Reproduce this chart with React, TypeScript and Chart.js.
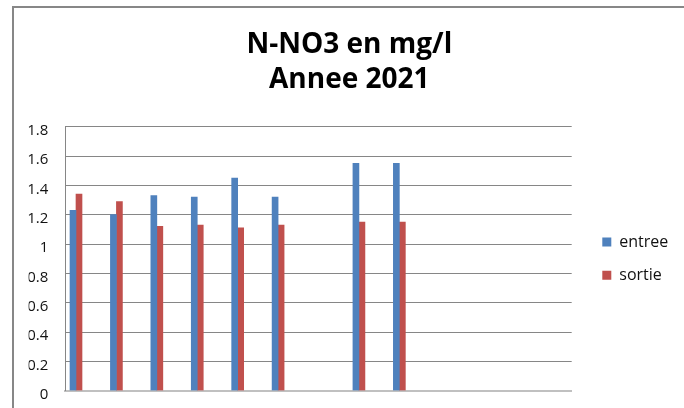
import React, { useEffect, useRef } from 'react';
import { Chart, registerables } from 'chart.js';

Chart.register(...registerables);

// ---- data ----
const categories = ['janv', 'févr', 'mars', 'avr', 'mai', 'juin', 'juil', 'août', 'sept', 'oct', 'nov', 'déc'];
const entree: (number | null)[] = [1.23, 1.2, 1.33, 1.32, 1.45, 1.32, null, 1.55, 1.55, null, null, null];
const sortie: (number | null)[] = [1.34, 1.29, 1.12, 1.13, 1.11, 1.13, null, 1.15, 1.15, null, null, null];
const seriesNames = ['entree', 'sortie'];
const yTickValues = [0, 0.2, 0.4, 0.6, 0.8, 1, 1.2, 1.4, 1.6, 1.8];
const yTickLabels = ['0', '0.2', '0.4', '0.6', '0.8', '1', '1.2', '1.4', '1.6', '1.8'];
const titleLines = ['N-NO3 en mg/l', 'Annee 2021'];

const FONT = "'Open Sans', 'Noto Sans', sans-serif";

const toPoints = (vals: (number | null)[]) =>
  vals
    .map((v, i) => (v === null ? null : { x: i, y: v }))
    .filter((p) => p !== null) as { x: number; y: number }[];

const framePlugin = {
  id: 'frame',
  beforeDraw(chart: any) {
    const { ctx } = chart;
    ctx.save();
    ctx.strokeStyle = '#878787';
    ctx.lineWidth = 2;
    ctx.strokeRect(13, 7, 720, 440);
    ctx.restore();
  },
};

export default function App() {
  const ref = useRef<HTMLCanvasElement | null>(null);

  useEffect(() => {
    if (!ref.current) return;
    const chart = new Chart(ref.current, {
      type: 'bar',
      data: {
        labels: categories,
        datasets: [
          {
            label: seriesNames[0],
            data: toPoints(entree) as any,
            backgroundColor: '#4F81BD',
            borderWidth: 0,
            barThickness: 6,
          },
          {
            label: seriesNames[1],
            data: toPoints(sortie) as any,
            backgroundColor: '#C0504D',
            borderWidth: 0,
            barThickness: 6,
          },
        ],
      },
      options: {
        responsive: false,
        animation: false,
        layout: { padding: { left: 28.6, right: 14, top: 0, bottom: 0 } },
        scales: {
          x: {
            type: 'linear',
            position: 'bottom',
            offset: false,
            bounds: 'data',
            min: -0.2647,
            max: 12.264,
            grid: { display: false, drawTicks: false, offset: false },
            border: { display: true, color: '#c0c0c0', width: 2 },
            ticks: { display: false },
            afterFit: (s: any) => {
              s.height = 17.3;
            },
          },
          y: {
            type: 'linear',
            position: 'left',
            min: 0,
            max: 1.8,
            ticks: {
              stepSize: 0.2,
              padding: 17,
              labelOffset: 4,
              autoSkip: false,
              color: '#111',
              font: { family: FONT, size: 15, lineHeight: 0 },
              callback: (_v: any, i: number) => yTickLabels[i],
            },
            afterBuildTicks: (axis: any) => {
              axis.ticks = yTickValues.map((v) => ({ value: v }));
            },
            grid: {
              drawTicks: false,
              color: (c: any) => (c.tick && c.tick.value === 0 ? 'rgba(0,0,0,0)' : '#868686'),
              lineWidth: 1,
            },
            border: { display: true, color: '#868686', width: 1 },
            afterFit: (s: any) => {
              s.width = 36.7;
            },
          },
          gap: {
            type: 'linear',
            position: 'right',
            display: true,
            grid: { display: false, drawTicks: false },
            border: { display: false },
            ticks: { display: false },
            afterFit: (s: any) => {
              s.width = 13.3;
            },
          },
        },
        plugins: {
          title: {
            display: true,
            text: titleLines,
            color: '#000',
            font: { family: FONT, size: 28, weight: 'bold', lineHeight: 1.25 },
            padding: { top: 28, bottom: 28.7 },
          },
          legend: {
            display: true,
            position: 'right',
            align: 'center',
            fullSize: false,
            maxWidth: 85,
            labels: {
              boxWidth: 9,
              boxHeight: 9,
              padding: 17.3,
              color: '#111',
              font: { family: FONT, size: 16 },
            },
          },
          tooltip: { enabled: false },
        },
      } as any,
      plugins: [framePlugin],
    });
    return () => chart.destroy();
  }, []);

  return (
    <div style={{ position: 'absolute', left: 0, top: 0, width: 684, height: 408, background: '#fff' }}>
      <canvas ref={ref} width={684} height={408} style={{ display: 'block' }} />
    </div>
  );
}
